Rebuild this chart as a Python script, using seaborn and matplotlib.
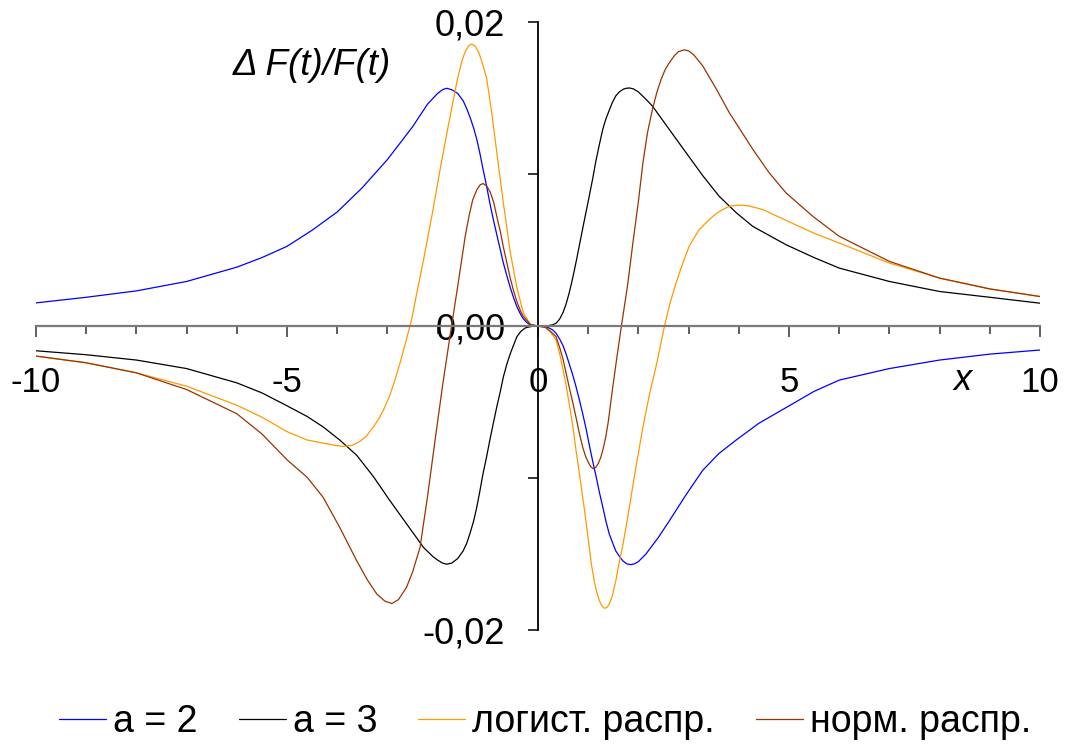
import numpy as np
import pandas as pd
import matplotlib
matplotlib.use("Agg")
import matplotlib.pyplot as plt
import seaborn as sns

# ---------------- data (y values in units of 1e-3) ----------------
series_names = ["a = 2", "a = 3", "логист. распр.", "норм. распр."]
Y_UNIT = 1e-3

blue_x = [-10, -9, -8, -7, -6, -5.5, -5, -4.5, -4, -3.5, -3, -2.5, -2.2, -2.0, -1.9, -1.82, -1.72,
          -1.6, -1.49, -1.42, -1.35, -1.28, -1.22, -1.16, -1.1, -1.03, -0.96, -0.89, -0.82, -0.75,
          -0.69, -0.62, -0.55, -0.48, -0.42, -0.36, -0.3, -0.23, -0.16, 0,
          0.1, 0.2, 0.29, 0.36, 0.43, 0.5, 0.56, 0.62, 0.69, 0.75, 0.82, 0.89, 0.96, 1.02, 1.09,
          1.16, 1.22, 1.29, 1.35, 1.42, 1.49, 1.55, 1.62, 1.69, 1.77, 1.85, 1.92, 2.0, 2.15, 2.4,
          2.62, 2.95, 3.28, 3.6, 3.94, 4.4, 4.94, 5.5, 6, 7, 8, 9, 10]
blue_y = [1.52, 1.89, 2.31, 2.93, 3.87, 4.5, 5.24, 6.3, 7.5, 9.1, 10.95, 13.1, 14.6, 15.3, 15.55,
          15.64, 15.55, 15.3, 14.81, 14.3, 13.7, 13.0, 12.28, 11.4, 10.4, 9.3, 8.1, 7.0, 6.0, 5.0,
          4.14, 3.3, 2.5, 1.8, 1.27, 0.85, 0.5, 0.25, 0.07, 0,
          -0.02, -0.1, -0.25, -0.48, -0.85, -1.3, -1.85, -2.46, -3.2, -3.9, -4.8, -5.76, -6.8,
          -7.8, -8.9, -9.94, -10.9, -11.9, -12.8, -13.69, -14.3, -14.8, -15.15, -15.45, -15.65,
          -15.7, -15.65, -15.5, -15.0, -13.9, -12.8, -11.1, -9.5, -8.4, -7.52, -6.4, -5.37, -4.3,
          -3.56, -2.8, -2.24, -1.85, -1.58]

black_x = [-10, -9, -8, -7, -6, -5.5, -5, -4.6, -4.28, -3.95, -3.61, -3.28, -2.95, -2.6, -2.28,
           -2.1, -2.0, -1.9, -1.82, -1.72, -1.6, -1.49, -1.42, -1.35, -1.28, -1.22, -1.16, -1.1,
           -1.03, -0.96, -0.89, -0.82, -0.75, -0.69, -0.62, -0.55, -0.48, -0.42, -0.34, -0.25,
           -0.12, 0,
           0.2, 0.29, 0.36, 0.43, 0.5, 0.56, 0.62, 0.67, 0.72, 0.77, 0.82, 0.92, 1.02, 1.09, 1.15,
           1.22, 1.29, 1.35, 1.42, 1.48, 1.55, 1.62, 1.7, 1.76, 1.82, 1.9, 2.0, 2.14, 2.28, 2.6,
           2.95, 3.28, 3.61, 3.95, 4.28, 4.94, 5.5, 6, 7, 8, 9, 10]
black_y = [-1.63, -1.89, -2.24, -2.8, -3.74, -4.4, -5.25, -5.95, -6.64, -7.5, -8.51, -9.9, -11.49,
           -13.1, -14.57, -15.15, -15.4, -15.6, -15.67, -15.6, -15.3, -14.79, -14.3, -13.6, -12.8,
           -11.93, -10.9, -9.8, -8.7, -7.52, -6.4, -5.3, -4.3, -3.35, -2.5, -1.8, -1.2, -0.7,
           -0.35, -0.12, -0.02, 0,
           0.02, 0.08, 0.18, 0.45, 0.9, 1.45, 2.16, 2.85, 3.6, 4.4, 5.24, 6.9, 8.53, 9.7, 10.8,
           11.9, 12.94, 13.6, 14.2, 14.7, 15.14, 15.4, 15.58, 15.64, 15.66, 15.6, 15.4, 14.95,
           14.47, 13.0, 11.4, 9.9, 8.53, 7.45, 6.55, 5.35, 4.5, 3.81, 2.93, 2.27, 1.89, 1.5]

orange_x = [-10, -9, -8, -7, -6, -5.5, -5, -4.6, -4.28, -4.05, -3.88, -3.7, -3.55, -3.42, -3.28,
            -3.18, -3.08, -2.95, -2.85, -2.75, -2.63, -2.52, -2.4, -2.28, -2.1, -1.95, -1.78,
            -1.62, -1.52, -1.45, -1.38, -1.32, -1.25, -1.18, -1.1, -1.02, -0.92, -0.82, -0.69,
            -0.56, -0.42, -0.29, -0.15, 0,
            0.15, 0.25, 0.36, 0.43, 0.5, 0.56, 0.62, 0.69, 0.75, 0.82, 0.89, 0.95, 1.0, 1.06, 1.12,
            1.17, 1.22, 1.27, 1.32, 1.37, 1.42, 1.48, 1.55, 1.62, 1.68, 1.75, 1.82, 1.95, 2.09,
            2.22, 2.35, 2.52, 2.63, 2.75, 2.88, 3.01, 3.2, 3.41, 3.55, 3.7, 3.82, 3.94, 4.07, 4.2,
            4.48, 4.94, 5.5, 6, 7, 8, 9, 10]
orange_y = [-1.98, -2.42, -3.08, -3.96, -5.21, -6.0, -6.95, -7.5, -7.7, -7.85, -7.92, -7.85,
            -7.6, -7.25, -6.64, -6.15, -5.54, -4.55, -3.55, -2.46, -1.0, 0.4, 2.4, 4.36, 7.5,
            10.3, 13.3, 16.0, 17.4, 18.05, 18.45, 18.55, 18.41, 18.0, 17.2, 16.24, 14.0, 11.4,
            8.1, 5.0, 2.5, 0.84, 0.1, 0,
            -0.1, -0.4, -0.92, -1.8, -2.9, -3.9, -5.1, -6.5, -8.0, -9.6, -11.27, -12.7, -14.0,
            -15.6, -16.77, -17.5, -18.05, -18.4, -18.57, -18.52, -18.3, -17.75, -16.77, -15.5,
            -14.6, -13.3, -11.93, -9.3, -6.65, -4.5, -2.69, 0.0, 1.5, 2.82, 4.1, 5.24, 6.3, 7.0,
            7.4, 7.7, 7.88, 7.94, 7.95, 7.9, 7.66, 6.95, 6.1, 5.46, 4.14, 3.15, 2.44, 1.94]

brown_x = [-10, -9, -8, -7, -6, -5.5, -5, -4.6, -4.28, -3.95, -3.61, -3.4, -3.21, -3.05, -2.91,
           -2.78, -2.62, -2.5, -2.35, -2.2, -2.05, -1.9, -1.75, -1.6, -1.45, -1.37, -1.3, -1.22,
           -1.15, -1.09, -1.02, -0.95, -0.88, -0.82, -0.75, -0.69, -0.62, -0.56, -0.49, -0.42,
           -0.35, -0.29, -0.15, 0,
           0.15, 0.25, 0.36, 0.43, 0.5, 0.56, 0.62, 0.69, 0.75, 0.82, 0.89, 0.95, 1.0, 1.05, 1.1,
           1.15, 1.2, 1.25, 1.29, 1.35, 1.4, 1.49, 1.57, 1.65, 1.79, 1.89, 2.0, 2.09, 2.18, 2.28,
           2.37, 2.45, 2.53, 2.62, 2.72, 2.8, 2.91, 3.0, 3.1, 3.28, 3.55, 3.81, 4.28, 4.6, 4.94,
           5.48, 6, 7, 8, 9, 10]
brown_y = [-1.98, -2.42, -3.08, -4.18, -5.77, -7.1, -8.8, -9.95, -11.27, -13.25, -15.45, -16.7,
           -17.64, -18.1, -18.26, -18.0, -17.2, -16.2, -14.57, -11.2, -7.5, -3.9, -0.6, 2.6, 5.9,
           7.3, 8.3, 8.95, 9.3, 9.37, 9.2, 8.8, 8.1, 7.2, 6.2, 5.2, 4.15, 3.25, 2.35, 1.6, 1.0,
           0.62, 0.1, 0,
           -0.1, -0.35, -0.7, -1.4, -2.2, -3.1, -4.0, -5.0, -5.9, -7.0, -7.97, -8.6, -8.95, -9.25,
           -9.39, -9.3, -9.05, -8.65, -8.18, -7.3, -6.3, -4.0, -2.1, -0.26, 2.8, 5.46, 8.2, 10.74,
           12.7, 14.26, 15.4, 16.2, 16.85, 17.34, 17.8, 18.05, 18.17, 18.1, 17.85, 17.12, 15.6,
           14.04, 11.62, 10.1, 8.76, 7.2, 5.9, 4.25, 3.15, 2.44, 1.94]

x_major_ticks = [-10, -5, 0, 5, 10]
x_major_labels = ["-10", "-5", "0", "5", "10"]
x_minor_ticks = [-9, -8, -7, -6, -4, -3, -2, -1, 1, 2, 3, 4, 6, 7, 8, 9]
y_major_ticks = [-0.02, 0.0, 0.02]
y_major_labels = ["-0,02", "0,00", "0,02"]
y_minor_ticks = [-0.01, 0.01]

colors = ["#0000FF", "#000000", "#FF9900", "#993300"]

# ---------------- build long table ----------------
frames = []
for name, xs, ys in zip(series_names,
                        [blue_x, black_x, orange_x, brown_x],
                        [blue_y, black_y, orange_y, brown_y]):
    frames.append(pd.DataFrame({"x": xs, "y": np.asarray(ys) * Y_UNIT, "series": name}))
df = pd.concat(frames, ignore_index=True)

# ---------------- style ----------------
sns.set_style("white")
plt.rcParams["font.family"] = ["Liberation Sans", "DejaVu Sans"]
plt.rcParams["text.color"] = "black"
plt.rcParams["axes.labelcolor"] = "black"
plt.rcParams["xtick.color"] = "black"
plt.rcParams["ytick.color"] = "black"

W, H = 1065, 749
fig = plt.figure(figsize=(W / 100, H / 100), dpi=100)
ax = fig.add_axes([36 / W, 1 - 630 / H, 1004 / W, 608 / H])

sns.lineplot(data=df, x="x", y="y", hue="series", hue_order=series_names,
             palette=colors, estimator=None, sort=False, linewidth=0.9, ax=ax)

ax.set_xlim(-10, 10)
ax.set_ylim(-0.02, 0.02)
ax.set_xlabel("")
ax.set_ylabel("")

for s in ["top", "right"]:
    ax.spines[s].set_visible(False)
ax.spines["left"].set_position(("data", 0))
ax.spines["bottom"].set_position(("data", 0))
ax.spines["left"].set_color("black")
ax.spines["left"].set_linewidth(1.3)
ax.spines["bottom"].set_color("#7a7a7a")
ax.spines["bottom"].set_linewidth(1.6)

ax.set_xticks(x_major_ticks)
ax.set_xticklabels(x_major_labels)
ax.set_xticks(x_minor_ticks, minor=True)
ax.set_yticks(y_major_ticks)
ax.set_yticklabels(y_major_labels)
ax.set_yticks(y_minor_ticks, minor=True)

ax.tick_params(axis="x", which="major", direction="out", length=8, width=1.1,
               color="#333333", labelcolor="black", labelsize=25, pad=21, bottom=True)
ax.tick_params(axis="x", which="minor", direction="out", length=6, width=1.1,
               color="#333333", bottom=True)
ax.tick_params(axis="y", which="both", direction="out", length=7, width=1.1,
               color="black", labelcolor="black", labelsize=26, pad=16.5, left=True)

ax.text(0.275, 0.928, "Δ F(t)/F(t)", transform=ax.transAxes, fontsize=26.5,
        fontstyle="italic", ha="center", va="center", color="black")
ax.text(0.923, 0.41, "x", transform=ax.transAxes, fontsize=26,
        fontstyle="italic", ha="center", va="center", color="black")

handles, labels = ax.get_legend_handles_labels()
if ax.get_legend() is not None:
    ax.get_legend().remove()
fig.legend(handles, labels, loc="center", bbox_to_anchor=(0.512, 1 - 722 / H), ncol=4,
           frameon=False, fontsize=27, handlelength=1.25, handletextpad=0.19,
           columnspacing=1.1, labelcolor="black")

fig.savefig("out.png", dpi=100)
